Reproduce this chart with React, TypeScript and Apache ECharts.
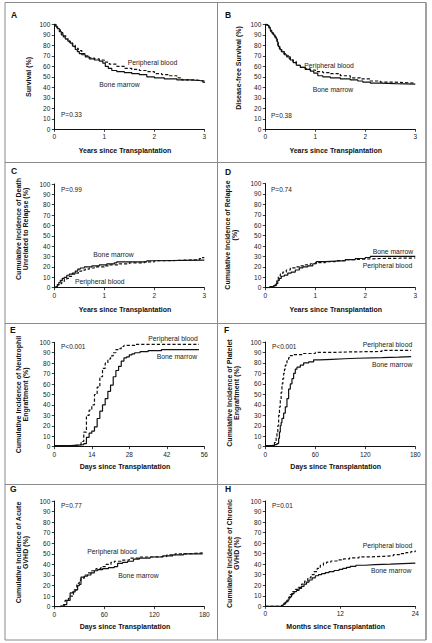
import React, { useEffect, useRef } from "react";
import * as echarts from "echarts";

// ---------- DATA ----------
const panelLetters = ["A", "B", "C", "D", "E", "F", "G", "H"];
const yTitles = [
  "Survival (%)",
  "Disease-free Survival (%)",
  "Cumulative Incidence of Death\nUnrelated to Relapse (%)",
  "Cumulative Incidence of Relapse\n(%)",
  "Cumulative Incidence of Neutrophil\nEngraftment (%)",
  "Cumulative Incidence of Platelet\nEngraftment (%)",
  "Cumulative Incidence of Acute\nGVHD (%)",
  "Cumulative Incidence of Chronic\nGVHD (%)",
];
const xTitles = [
  "Years since Transplantation",
  "Years since Transplantation",
  "Years since Transplantation",
  "Years since Transplantation",
  "Days since Transplantation",
  "Days since Transplantation",
  "Days since Transplantation",
  "Months since Transplantation",
];
const xMaxes = [3, 3, 3, 3, 56, 180, 180, 24];
const xIntervals = [1, 1, 1, 1, 14, 60, 60, 12];
const yMax = 100;
const yInterval = 10;
const pValues = ["P=0.33", "P=0.38", "P=0.99", "P=0.74", "P<0.001", "P<0.001", "P=0.77", "P=0.01"];
const seriesNames = ["Bone marrow", "Peripheral blood"];

const survivalBM = [[0,100],[0.03,98],[0.06,96],[0.1,93],[0.14,90],[0.18,88],[0.22,86],[0.27,84],[0.32,82],[0.37,79],[0.42,76],[0.46,74],[0.5,72],[0.55,71],[0.62,69],[0.7,67],[0.8,66],[0.9,65],[0.97,63],[1.02,60],[1.08,58],[1.15,56],[1.25,55],[1.4,54],[1.55,53],[1.7,52],[1.85,50],[2.0,49],[2.2,48],[2.45,47],[2.7,46.5],[2.9,46],[2.97,45],[3,44]];
const survivalPB = [[0,100],[0.03,97],[0.07,95],[0.12,92],[0.17,89],[0.23,86],[0.3,83],[0.36,80],[0.42,77],[0.48,75],[0.55,72],[0.62,70],[0.7,68],[0.8,67],[0.9,66],[1.0,64],[1.1,62],[1.25,60],[1.4,58],[1.55,57],[1.7,56],[1.85,55],[2.0,53],[2.15,52],[2.3,51],[2.45,49],[2.55,47],[2.8,46.5],[2.95,46],[3,45]];

const dfsBM = [[0,100],[0.03,99],[0.07,97],[0.1,94],[0.13,92],[0.16,90],[0.19,88],[0.22,86],[0.24,83],[0.26,79],[0.29,76],[0.33,74],[0.38,71],[0.43,69],[0.5,66],[0.56,63.5],[0.62,61],[0.7,59],[0.8,57],[0.9,55.5],[0.97,53.5],[1.05,51],[1.15,50],[1.3,49],[1.5,48],[1.7,47],[1.85,46],[1.95,45],[2.1,44],[2.3,43.5],[2.6,43],[3,42.5]];
const dfsPB = [[0,100],[0.04,98],[0.08,96],[0.11,93],[0.14,91],[0.17,89],[0.2,87],[0.23,84],[0.25,80],[0.28,77],[0.32,74],[0.37,72],[0.42,70],[0.48,67],[0.55,64.5],[0.62,61],[0.7,59],[0.8,57.5],[0.9,56.5],[1.0,55],[1.15,54],[1.3,53],[1.5,51],[1.7,49],[1.9,48],[2.1,46],[2.3,45],[2.5,44.5],[2.8,44],[3,43.5]];

const deathBM = [[0,0],[0.03,1],[0.06,3],[0.09,5],[0.12,7],[0.16,9],[0.2,10],[0.25,12],[0.3,13],[0.36,14],[0.42,16],[0.47,18],[0.52,19],[0.6,20],[0.75,21],[0.9,22],[1.05,23],[1.2,24],[1.25,25],[1.5,25],[1.85,26],[2.0,26.5],[3,26.5]];
const deathPB = [[0,0],[0.04,1],[0.07,3],[0.1,4],[0.15,6],[0.2,8],[0.25,9],[0.3,11],[0.36,13],[0.42,14],[0.48,16],[0.55,17],[0.62,18],[0.7,19],[0.8,20],[1.0,21],[1.1,22],[1.3,23],[1.5,24],[1.8,25],[2.0,26],[2.3,26.5],[2.6,27],[2.9,28],[2.95,29],[3,29]];

const relapseBM = [[0,0],[0.1,1],[0.17,2],[0.22,4],[0.25,7],[0.28,9],[0.32,11],[0.38,12],[0.45,14],[0.52,15],[0.6,17],[0.68,19],[0.75,20],[0.85,21],[0.95,23],[1.02,25],[1.2,25.5],[1.4,26],[1.6,27],[1.8,28],[2.0,29],[2.1,30],[3,30]];
const relapsePB = [[0,0],[0.08,1],[0.15,2],[0.2,4],[0.23,8],[0.26,11],[0.3,13],[0.35,15],[0.42,17],[0.5,19],[0.6,20],[0.7,21],[0.8,22],[0.9,23],[1.0,24],[1.2,25],[1.4,26],[1.6,27],[1.8,27.5],[2.0,28],[2.3,28.5],[3,28.5]];

const neutroBM = [[0,1],[6,1.5],[9,2],[11,3],[12,9],[13,13],[14,15],[15,19],[16,27],[17,34],[18,40],[19,46],[20,53],[21,59],[22,67],[23,73],[24,77],[25,82],[26,85],[27,86],[28,88],[29,89],[30,90],[32,91],[35,92],[40,93],[54,93]];
const neutroPB = [[0,1],[6,1.5],[9,2],[10,5],[11,14],[12,30],[13,35],[14,40],[15,50],[16,57],[17,67],[18,75],[19,80],[20,84],[21,87],[22,90],[23,93],[24,94],[25,96],[26,97],[30,98],[54,98]];

const plateletBM = [[0,1],[8,1],[11,2],[14,3],[16,8],[17,14],[18,20],[19,23],[20,27],[22,32],[24,38],[26,46],[28,55],[30,60],[32,65],[34,70],[36,74],[38,76],[42,78],[46,80],[52,81],[58,83],[65,83.5],[80,84],[95,84.5],[110,85],[140,85.5],[160,86],[175,86]];
const plateletPB = [[0,1],[7,1],[9,2],[11,4],[13,9],[14,14],[15,20],[16,30],[17,38],[18,45],[19,52],[20,60],[21,65],[22,70],[23,74],[24,78],[26,82],[28,85],[30,87],[34,88],[45,89],[60,90],[80,90.5],[100,91],[140,92],[175,92]];

const acuteBM = [[0,0],[8,0.5],[10,1],[12,2],[15,6],[19,13],[22,14],[25,16],[28,20],[30,21],[32,28],[36,29],[40,30],[44,32],[48,34],[52,35],[58,36],[65,37],[72,38],[76,41],[82,42],[88,43],[95,45],[102,46],[115,47],[130,48],[142,49],[155,50],[178,50]];
const acutePB = [[0,0],[8,1],[11,2],[13,6],[17,8],[19,10],[23,16],[27,22],[30,25],[32,27],[36,30],[40,32],[45,34],[50,36],[56,38],[62,40],[68,42],[72,43],[80,44],[90,46],[102,47],[120,47.5],[135,49],[145,50],[160,50.5],[170,51],[178,51]];

const chronicBM = [[0,0],[2.2,0],[2.6,1],[2.9,2],[3.2,4],[3.5,6],[3.8,9],[4.2,12],[4.6,14],[5.0,15],[5.4,17],[5.8,19],[6.2,21],[6.6,23],[7.0,25],[7.5,27],[8.0,29],[8.5,30],[9.0,31],[9.6,32],[10.2,33],[11.0,34],[11.8,35],[12.4,36],[13.0,37],[13.6,38],[14.5,39],[16,39.5],[17.5,40],[20,40.5],[22,41],[24,41]];
const chronicPB = [[0,0],[2.2,0],[2.7,1],[3.0,3],[3.3,5],[3.7,8],[4.0,11],[4.4,14],[4.8,16],[5.3,18],[5.8,21],[6.3,24],[6.8,27],[7.3,30],[7.8,33],[8.3,36],[8.8,39],[9.3,41],[9.8,42],[10.5,43],[11.5,44],[12.5,45],[13.5,46],[15,47],[17,47.5],[19,48],[20.5,49],[21.5,50],[22.5,51],[23.3,52],[24,53]];

const bmData = [survivalBM, dfsBM, deathBM, relapseBM, neutroBM, plateletBM, acuteBM, chronicBM];
const pbData = [survivalPB, dfsPB, deathPB, relapsePB, neutroPB, plateletPB, acutePB, chronicPB];

// ---------- LAYOUT ----------
const FONT = "'Liberation Sans', Arial, sans-serif";
const INK = "#111111";
const grids = [
  { left: 54.3, top: 24.3, h: 105 },
  { left: 265.3, top: 24.3, h: 105 },
  { left: 54.3, top: 184, h: 103.7 },
  { left: 265.3, top: 183.5, h: 104.2 },
  { left: 54.3, top: 342.3, h: 104.4 },
  { left: 265.3, top: 342, h: 104.7 },
  { left: 54.3, top: 501, h: 105.7 },
  { left: 265.3, top: 501, h: 105.3 },
];
const GW = 150;
const letterPos = [[11, 15], [225, 15], [11, 171], [225, 172], [10, 330], [224, 330], [10, 489], [225, 489]];
const yTitlePos = [[28, 77], [238.7, 68], [22, 229], [231, 235], [22, 394.5], [233, 393], [22, 552.5], [233, 553.5]];
const xTitlePos = [[125, 150.7], [335.7, 150], [125, 309], [335.7, 309], [125, 466.7], [335.7, 466.7], [125, 626.7], [335.7, 626.7]];
const pPos = [[61, 114.3], [271, 115], [61, 189.3], [271, 189], [61, 346.7], [272, 346.7], [61, 505.7], [272, 505.7]];
const pbLabelPos = [[127.7, 62.3], [304.3, 65.2], [75, 281.7], [362.7, 265], [148.3, 338.3], [362.7, 344.3], [87.3, 551.7], [362.7, 545.7]];
const bmLabelPos = [[99.3, 84], [312.7, 89.3], [93.3, 254.3], [372.7, 251.7], [156.7, 356.7], [372, 364], [118.3, 575], [371, 570.7]];

export default function App() {
  const ref = useRef<HTMLDivElement>(null);
  useEffect(() => {
    if (!ref.current) return;
    const chart = echarts.init(ref.current, undefined, { renderer: "svg" });
    const gridOpt = grids.map((g) => ({ left: g.left, top: g.top, width: GW, height: g.h, containLabel: false }));
    const xAxes = grids.map((_, i) => ({
      gridIndex: i,
      type: "value",
      min: 0,
      max: xMaxes[i],
      interval: xIntervals[i],
      axisLine: { show: true, lineStyle: { color: INK, width: 1 } },
      axisTick: { show: true, length: 2.5, lineStyle: { color: INK, width: 0.8 } },
      axisLabel: { fontSize: 6.5, color: "#222", margin: 4, fontFamily: FONT },
      splitLine: { show: false },
    }));
    const yAxes = grids.map((_, i) => ({
      gridIndex: i,
      type: "value",
      min: 0,
      max: yMax,
      interval: yInterval,
      axisLine: { show: true, lineStyle: { color: INK, width: 1 } },
      axisTick: { show: true, length: 2.5, lineStyle: { color: INK, width: 0.8 } },
      axisLabel: { fontSize: 6.5, color: "#222", margin: 4, fontFamily: FONT },
      splitLine: { show: false },
    }));
    const series: any[] = [];
    grids.forEach((_, i) => {
      series.push({
        name: seriesNames[0], type: "line", step: "end", xAxisIndex: i, yAxisIndex: i,
        data: bmData[i], showSymbol: false, symbol: "none",
        lineStyle: { color: INK, width: 1.2, type: "solid" }, z: 3,
      });
      series.push({
        name: seriesNames[1], type: "line", step: "end", xAxisIndex: i, yAxisIndex: i,
        data: pbData[i], showSymbol: false, symbol: "none",
        lineStyle: { color: INK, width: 1.2, type: [3.2, 2] }, z: 3,
      });
    });

    const txt = (x: number, y: number, text: string, o: any = {}) => ({
      type: "text", x, y, rotation: o.rotation || 0, silent: true,
      style: {
        text, fill: o.fill || INK, fontSize: o.fontSize || 7, fontFamily: FONT,
        fontWeight: o.fontWeight || "normal", align: o.align || "left",
        verticalAlign: o.verticalAlign || "middle", lineHeight: o.lineHeight || 8,
      },
    });
    const frameColor = "#8a8a8a";
    const ln = (x1: number, y1: number, x2: number, y2: number, w = 1) => ({
      type: "line", silent: true, shape: { x1, y1, x2, y2 }, style: { stroke: frameColor, lineWidth: w },
    });
    const graphics: any[] = [
      ln(5, 2.5, 426, 2.5),
      ln(5, 640, 426, 640),
      ln(5, 2.5, 5, 640),
      ln(426, 2.5, 426, 640, 1.6),
      ln(217.5, 2.5, 217.5, 640),
      ln(5, 162.5, 426, 162.5),
      ln(5, 323.5, 426, 323.5),
      ln(5, 484.5, 426, 484.5),
    ];
    grids.forEach((_, i) => {
      graphics.push(txt(letterPos[i][0], letterPos[i][1], panelLetters[i], { fontWeight: "bold", fontSize: 8.5 }));
      graphics.push(txt(yTitlePos[i][0], yTitlePos[i][1], yTitles[i], { rotation: Math.PI / 2, align: "center", fontWeight: "bold", fontSize: 7, lineHeight: 7.5 }));
      graphics.push(txt(xTitlePos[i][0], xTitlePos[i][1], xTitles[i], { align: "center", fontWeight: "bold", fontSize: 7 }));
      graphics.push(txt(pPos[i][0], pPos[i][1], pValues[i], { fontSize: 6.5, fill: "#222" }));
      graphics.push(txt(pbLabelPos[i][0], pbLabelPos[i][1], seriesNames[1], { fontSize: 6.8, fill: "#222" }));
      graphics.push(txt(bmLabelPos[i][0], bmLabelPos[i][1], seriesNames[0], { fontSize: 6.8, fill: "#222" }));
    });

    chart.setOption({
      animation: false,
      backgroundColor: "#ffffff",
      grid: gridOpt,
      xAxis: xAxes,
      yAxis: yAxes,
      series,
      graphic: graphics,
    });
    return () => chart.dispose();
  }, []);
  return (
    <div
      ref={ref}
      style={{ position: "absolute", left: 0, top: 0, width: 432, height: 643, background: "#fff" }}
    />
  );
}
